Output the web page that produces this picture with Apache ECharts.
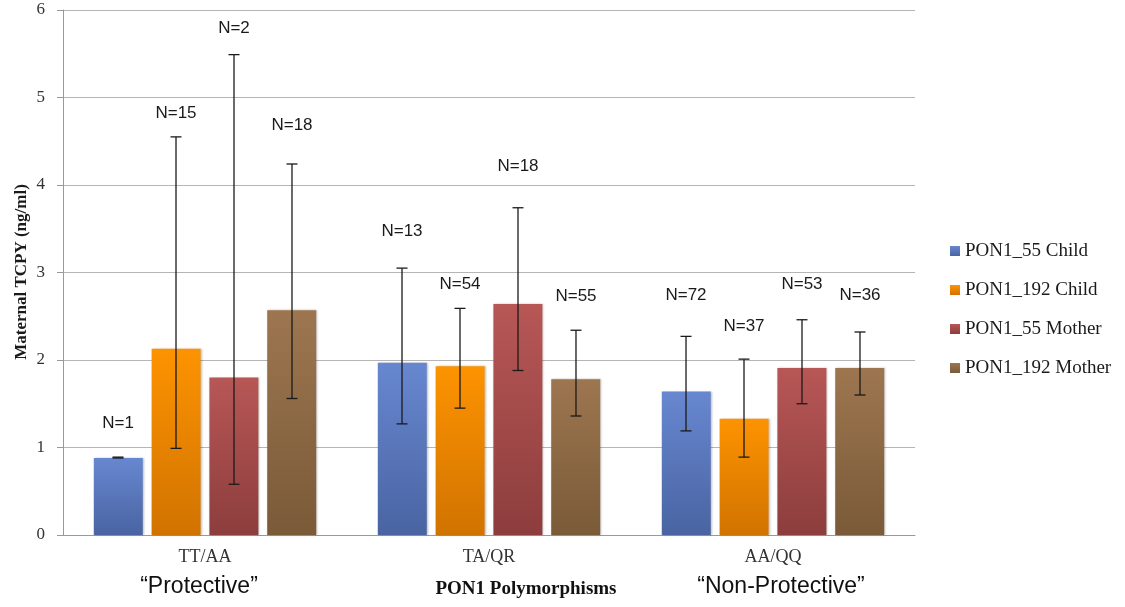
<!DOCTYPE html>
<html>
<head>
<meta charset="utf-8">
<script src="https://cdn.jsdelivr.net/npm/echarts@6/dist/echarts.min.js"></script>
<style>
  html, body { margin: 0; padding: 0; background: #fff; }
  #chart { width: 1125px; height: 607px; }
</style>
</head>
<body>
<div id="chart"></div>
<script>
// 数据
const categories = ['TT/AA', 'TA/QR', 'AA/QQ']
const seriesNames = ['PON1_55 Child', 'PON1_192 Child', 'PON1_55 Mother', 'PON1_192 Mother']

const meanBlue = [0.88, 1.97, 1.64]
const meanOrange = [2.13, 1.93, 1.33]
const meanRed = [1.80, 2.64, 1.91]
const meanBrown = [2.57, 1.78, 1.91]

const lowBlue = [0.88, 1.27, 1.19]
const lowOrange = [0.99, 1.45, 0.89]
const lowRed = [0.58, 1.88, 1.50]
const lowBrown = [1.56, 1.36, 1.60]

const highBlue = [0.89, 3.05, 2.27]
const highOrange = [4.55, 2.59, 2.01]
const highRed = [5.49, 3.74, 2.46]
const highBrown = [4.24, 2.34, 2.32]

const countBlue = [1, 13, 72]
const countOrange = [15, 54, 37]
const countRed = [2, 18, 53]
const countBrown = [18, 55, 36]

// N= 标签所在的纵坐标
const labelYBlue = [1.28, 3.47, 2.74]
const labelYOrange = [4.82, 2.86, 2.38]
const labelYRed = [5.79, 4.21, 2.86]
const labelYBrown = [4.68, 2.73, 2.74]

const yTicks = [0, 1, 2, 3, 4, 5, 6]

const means = [meanBlue, meanOrange, meanRed, meanBrown]
const lows = [lowBlue, lowOrange, lowRed, lowBrown]
const highs = [highBlue, highOrange, highRed, highBrown]
const counts = [countBlue, countOrange, countRed, countBrown]
const labelYs = [labelYBlue, labelYOrange, labelYRed, labelYBrown]

const colors = [
  ['#6787d0', '#4a64a2'],
  ['#fd9300', '#d17300'],
  ['#b75756', '#8d3d3d'],
  ['#9d7650', '#7a5a38']
]

const serif = '"Liberation Serif", "DejaVu Serif", serif'
const sans = '"Liberation Sans", Arial, sans-serif'

// 柱宽和间距（相对类目宽度）
const barFrac = 0.1725
const pitchFrac = 0.2042

const chart = echarts.init(document.getElementById('chart'))

const barSeries = seriesNames.map((name, i) => ({
  name: name,
  type: 'bar',
  barWidth: (barFrac * 100) + '%',
  barGap: '18%',
  data: means[i],
  itemStyle: {
    color: new echarts.graphic.LinearGradient(0, 0, 0, 1, [
      { offset: 0, color: colors[i][0] },
      { offset: 1, color: colors[i][1] }
    ]),
    shadowBlur: 2,
    shadowColor: 'rgba(0,0,0,0.25)',
    shadowOffsetX: 1
  },
  emphasis: { disabled: true }
}))

const errSeries = seriesNames.map((name, i) => ({
  type: 'custom',
  z: 5,
  silent: true,
  data: categories.map((c, k) => [k, lows[i][k], highs[i][k], labelYs[i][k], counts[i][k]]),
  renderItem: (params, api) => {
    const k = api.value(0)
    const band = api.size([1, 0])[0]
    const dx = (i - 1.5) * band * pitchFrac
    const lo = api.coord([k, api.value(1)])
    const hi = api.coord([k, api.value(2)])
    const lab = api.coord([k, api.value(3)])
    const x = lo[0] + dx
    const cap = 5.5
    const st = { stroke: '#1a1a1a', lineWidth: 1.3 }
    return {
      type: 'group',
      children: [
        { type: 'line', shape: { x1: x, y1: hi[1], x2: x, y2: lo[1] }, style: st },
        { type: 'line', shape: { x1: x - cap, y1: hi[1], x2: x + cap, y2: hi[1] }, style: st },
        { type: 'line', shape: { x1: x - cap, y1: lo[1], x2: x + cap, y2: lo[1] }, style: st },
        {
          type: 'text',
          style: {
            x: x, y: lab[1], text: 'N=' + api.value(4),
            align: 'center', verticalAlign: 'middle',
            font: '17px ' + sans, fill: '#1a1a1a'
          }
        }
      ]
    }
  }
}))

const option = {
  animation: false,
  backgroundColor: '#fff',
  grid: { left: 63, right: 210, top: 10, bottom: 72, outerBoundsMode: 'none' },
  legend: {
    orient: 'vertical',
    left: 945,
    top: 236,
    itemWidth: 10,
    itemHeight: 10,
    itemGap: 19,
    icon: 'rect',
    data: seriesNames,
    textStyle: { fontFamily: serif, fontSize: 19, color: '#1a1a1a', lineHeight: 20 }
  },
  xAxis: {
    type: 'category',
    data: categories,
    axisLine: { lineStyle: { color: '#999' } },
    axisTick: { show: false },
    axisLabel: { fontFamily: serif, fontSize: 18, color: '#333', margin: 13 }
  },
  yAxis: {
    type: 'value',
    min: yTicks[0],
    max: yTicks[yTicks.length - 1],
    interval: 1,
    axisLine: { show: true, lineStyle: { color: '#999' } },
    axisTick: { show: true, length: 6, lineStyle: { color: '#999' } },
    axisLabel: { fontFamily: serif, fontSize: 17, color: '#333', margin: 18 },
    splitLine: { lineStyle: { color: '#b5b5b5' } }
  },
  graphic: [
    {
      type: 'text',
      x: 22, y: 272, rotation: Math.PI / 2,
      style: { text: 'Maternal TCPY (ng/ml)', font: 'bold 17px ' + serif, fill: '#1a1a1a', align: 'center', verticalAlign: 'middle' }
    },
    {
      type: 'text',
      style: { text: '“Protective”', font: '23px ' + sans, fill: '#111', x: 199, y: 587, align: 'center', verticalAlign: 'middle' }
    },
    {
      type: 'text',
      style: { text: 'PON1 Polymorphisms', font: 'bold 19px ' + serif, fill: '#111', x: 526, y: 589, align: 'center', verticalAlign: 'middle' }
    },
    {
      type: 'text',
      style: { text: '“Non-Protective”', font: '23px ' + sans, fill: '#111', x: 781, y: 587, align: 'center', verticalAlign: 'middle' }
    }
  ],
  series: barSeries.concat(errSeries)
}

chart.setOption(option)
</script>
</body>
</html>
